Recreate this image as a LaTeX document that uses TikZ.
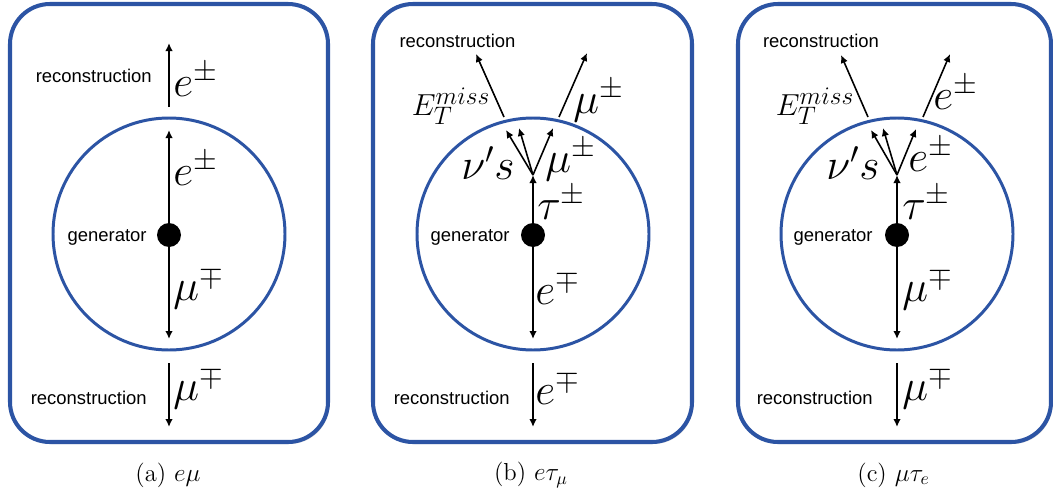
\documentclass[tikz,border=0pt]{standalone}
\usepackage{fontspec}
\setsansfont{Liberation Sans}
\usetikzlibrary{arrows.meta,shadows}
\definecolor{detblue}{RGB}{44,84,164}
\tikzset{
  panel/.style={draw=detblue,line width=2.3pt,rounded corners=0.8cm,fill=white,
    drop shadow={shadow xshift=0.03cm,shadow yshift=-0.04cm,opacity=0.3}},
  ring/.style={draw=detblue,line width=1.7pt},
  gendot/.style={circle,fill=black,minimum size=0.48cm,inner sep=0pt},
  trk/.style={-{Latex[length=1.6mm,width=1.5mm]},line width=0.9pt},
  sflabel/.style={font=\fontsize{10.5}{12}\selectfont\sffamily,inner sep=0pt},
  plabel/.style={font=\fontsize{24}{26}\selectfont,inner sep=0pt},
  misslabel/.style={font=\fontsize{19}{21}\selectfont,inner sep=0pt},
  subcap/.style={font=\fontsize{14}{16}\selectfont,inner sep=0pt}
}
\begin{document}
\begin{tikzpicture}[x=1cm,y=1cm]
  \useasboundingbox (0,0) rectangle (21.06,9.86);
  % (a) e mu
  \begin{scope}[shift={(3.38,5.16)}]
    \draw[panel] (-3.18,-4.14) rectangle (3.18,4.62);
    \draw[ring] (0,0.02) circle (2.32);
    \node[gendot] (gena) at (0,0) {};
    \coordinate (tipea) at (0,2.10);
    \coordinate (tipmua) at (0,-2.08);
    \coordinate (recea1) at (0,2.56);
    \coordinate (recea2) at (0,3.84);
    \coordinate (recmua1) at (0,-2.56);
    \coordinate (recmua2) at (0,-3.84);
    \draw[trk] (gena) -- (tipea);
    \draw[trk] (gena) -- (tipmua);
    \draw[trk] (recea1) -- (recea2);
    \draw[trk] (recmua1) -- (recmua2);
    \node[plabel,anchor=west] (ea1) at (0.08,3.10) {$e^{\pm}$};
    \node[plabel,anchor=west] (ea2) at (0.08,1.32) {$e^{\pm}$};
    \node[plabel,anchor=west] (mua1) at (0.08,-1.06) {$\mu^{\mp}$};
    \node[plabel,anchor=west] (mua2) at (0.08,-3.06) {$\mu^{\mp}$};
    \node[sflabel,anchor=east] (rectopa) at (-0.34,3.18) {reconstruction};
    \node[sflabel,anchor=east] (genlbla) at (-0.44,-0.04) {generator};
    \node[sflabel,anchor=east] (recbota) at (-0.44,-3.26) {reconstruction};
    \node[subcap] (capa) at (-0.02,-4.80) {(a) $e\mu$};
  \end{scope}
  % (b) e tau_mu
  \begin{scope}[shift={(10.66,5.16)}]
    \draw[panel] (-3.20,-4.14) rectangle (3.18,4.62);
    \draw[ring] (0,0.02) circle (2.32);
    \node[gendot] (genb) at (0,0) {};
    \coordinate (vtxb) at (0,1.20);
    \coordinate (nub1) at (-0.54,2.10);
    \coordinate (nub2) at (-0.28,2.14);
    \coordinate (mub) at (0.40,2.14);
    \coordinate (missb1) at (-0.58,2.36);
    \coordinate (missb2) at (-1.14,3.62);
    \coordinate (recmub1) at (0.52,2.36);
    \coordinate (recmub2) at (1.08,3.64);
    \coordinate (tipeb) at (0,-2.08);
    \coordinate (receb1) at (0,-2.56);
    \coordinate (receb2) at (0,-3.84);
    \draw[trk] (genb) -- (vtxb);
    \draw[trk] (vtxb) -- (nub1);
    \draw[trk] (vtxb) -- (nub2);
    \draw[trk] (vtxb) -- (mub);
    \draw[trk] (missb1) -- (missb2);
    \draw[trk] (recmub1) -- (recmub2);
    \draw[trk] (genb) -- (tipeb);
    \draw[trk] (receb1) -- (receb2);
    \node[sflabel] (rectopb) at (-1.51,3.88) {reconstruction};
    \node[misslabel] (emissb) at (-1.64,2.58) {$E_T^{miss}$};
    \node[plabel,anchor=west] (mub1) at (0.80,2.68) {$\mu^{\pm}$};
    \node[plabel,anchor=east] (nusb) at (-0.36,1.44) {$\nu's$};
    \node[plabel,anchor=west] (mub2) at (0.24,1.50) {$\mu^{\pm}$};
    \node[plabel,anchor=west] (taub) at (0.08,0.64) {$\tau^{\pm}$};
    \node[plabel,anchor=west] (eb1) at (0.04,-1.06) {$e^{\mp}$};
    \node[plabel,anchor=west] (eb2) at (0.04,-3.06) {$e^{\mp}$};
    \node[sflabel,anchor=east] (genlblb) at (-0.46,-0.04) {generator};
    \node[sflabel,anchor=east] (recbotb) at (-0.46,-3.26) {reconstruction};
    \node[subcap] (capb) at (-0.04,-4.80) {(b) $e\tau_{\mu}$};
  \end{scope}
  % (c) mu tau_e
  \begin{scope}[shift={(17.94,5.16)}]
    \draw[panel] (-3.18,-4.14) rectangle (3.08,4.62);
    \draw[ring] (0,0.02) circle (2.32);
    \node[gendot] (genc) at (0,0) {};
    \coordinate (vtxc) at (0,1.20);
    \coordinate (nuc1) at (-0.52,2.10);
    \coordinate (nuc2) at (-0.28,2.14);
    \coordinate (ec) at (0.38,2.12);
    \coordinate (missc1) at (-0.58,2.36);
    \coordinate (missc2) at (-1.12,3.60);
    \coordinate (recec1) at (0.52,2.36);
    \coordinate (recec2) at (1.06,3.62);
    \coordinate (tipmuc) at (0,-2.08);
    \coordinate (recmuc1) at (0,-2.56);
    \coordinate (recmuc2) at (0,-3.84);
    \draw[trk] (genc) -- (vtxc);
    \draw[trk] (vtxc) -- (nuc1);
    \draw[trk] (vtxc) -- (nuc2);
    \draw[trk] (vtxc) -- (ec);
    \draw[trk] (missc1) -- (missc2);
    \draw[trk] (recec1) -- (recec2);
    \draw[trk] (genc) -- (tipmuc);
    \draw[trk] (recmuc1) -- (recmuc2);
    \node[sflabel] (rectopc) at (-1.52,3.88) {reconstruction};
    \node[misslabel] (emissc) at (-1.64,2.58) {$E_T^{miss}$};
    \node[plabel,anchor=west] (ec1) at (0.72,2.84) {$e^{\pm}$};
    \node[plabel,anchor=east] (nusc) at (-0.34,1.44) {$\nu's$};
    \node[plabel,anchor=west] (ec2) at (0.22,1.60) {$e^{\pm}$};
    \node[plabel,anchor=west] (tauc) at (0.10,0.64) {$\tau^{\pm}$};
    \node[plabel,anchor=west] (muc1) at (0.10,-1.08) {$\mu^{\mp}$};
    \node[plabel,anchor=west] (muc2) at (0.10,-3.06) {$\mu^{\mp}$};
    \node[sflabel,anchor=east] (genlblc) at (-0.48,-0.04) {generator};
    \node[sflabel,anchor=east] (recbotc) at (-0.48,-3.26) {reconstruction};
    \node[subcap] (capc) at (-0.07,-4.80) {(c) $\mu\tau_{e}$};
  \end{scope}
\end{tikzpicture}
\end{document}
